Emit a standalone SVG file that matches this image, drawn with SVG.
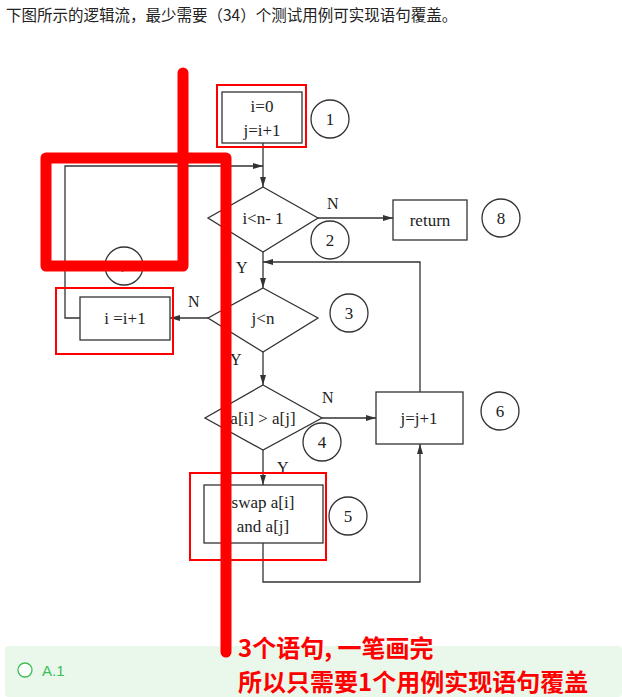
<svg xmlns="http://www.w3.org/2000/svg" width="622" height="697" viewBox="0 0 622 697">
<style>
.s{fill:none;stroke:#333;stroke-width:1.3}
.b{fill:#fff;stroke:#333;stroke-width:1.3}
.t{font-family:"Liberation Serif",serif;font-size:17px;fill:#222;text-anchor:middle}
.r{fill:none;stroke:#f00;stroke-width:2}
.c{fill:#fff;stroke:#333;stroke-width:1.3}
.big{font-family:"Noto Sans CJK SC",sans-serif;font-weight:bold;font-size:24px;fill:#f00}
</style>
<defs><marker id="a" viewBox="0 0 10 10" refX="10" refY="5" markerWidth="8" markerHeight="8" orient="auto"><path d="M0,2 L10,5 L0,8 z" fill="#333"/></marker></defs>
<rect width="622" height="697" fill="#fff"/>
<text x="6" y="21" font-family="Noto Sans CJK SC,sans-serif" font-size="15.5" fill="#222">下图所示的逻辑流，最少需要（34）个测试用例可实现语句覆盖。</text>
<g id="connectors">
<path class="s" d="M263,143 V187" marker-end="url(#a)"/>
<path class="s" d="M80,318 H65 V166 H263" marker-end="url(#a)"/>
<path class="s" d="M318,218 H393" marker-end="url(#a)"/>
<path class="s" d="M263,252 V288" marker-end="url(#a)"/>
<path class="s" d="M420,392 V262 H263" marker-end="url(#a)"/>
<path class="s" d="M208,318 H170" marker-end="url(#a)"/>
<path class="s" d="M263,352 V385" marker-end="url(#a)"/>
<path class="s" d="M322,418 H376" marker-end="url(#a)"/>
<path class="s" d="M263,450 V485" marker-end="url(#a)"/>
<path class="s" d="M263,543 V582 H420 V444" marker-end="url(#a)"/>
</g>
<g id="n1"><rect class="b" x="222" y="92" width="80" height="51"/><text class="t" x="262" y="112">i=0</text><text class="t" x="262" y="136">j=i+1</text><circle class="c" cx="330" cy="119" r="19"/><text class="t" x="330" y="125">1</text></g>
<g id="n2"><path class="b" d="M263,187 L318,218 L263,252 L208,218 z"/><text class="t" x="263" y="224">i&lt;n- 1</text><circle class="c" cx="330" cy="240" r="19"/><text class="t" x="330" y="246">2</text></g>
<g id="n8"><rect class="b" x="393" y="200" width="74" height="40"/><text class="t" x="430" y="226">return</text><circle class="c" cx="501" cy="218" r="19"/><text class="t" x="501" y="224">8</text></g>
<g id="n3"><path class="b" d="M263,288 L318,318 L263,352 L208,318 z"/><text class="t" x="263" y="324">j&lt;n</text><circle class="c" cx="349" cy="313" r="19"/><text class="t" x="349" y="319">3</text></g>
<g id="n7"><circle class="c" cx="124" cy="266" r="19"/><text class="t" x="124" y="272">7</text><rect class="b" x="80" y="297" width="90" height="43"/><text class="t" x="125" y="324">i =i+1</text></g>
<g id="n4"><path class="b" d="M263,385 L322,418 L263,450 L205,418 z"/><text class="t" x="263" y="424">a[i] &gt; a[j]</text><circle class="c" cx="322" cy="442" r="19"/><text class="t" x="322" y="448">4</text></g>
<g id="n6"><rect class="b" x="376" y="392" width="87" height="52"/><text class="t" x="419" y="424">j=j+1</text><circle class="c" cx="500" cy="411" r="19"/><text class="t" x="500" y="417">6</text></g>
<g id="n5"><rect class="b" x="204" y="485" width="119" height="58"/><text class="t" x="263" y="508">swap a[i]</text><text class="t" x="263" y="532">and a[j]</text><circle class="c" cx="348" cy="516" r="19"/><text class="t" x="348" y="522">5</text></g>
<g font-family="Liberation Serif,serif" font-size="16" fill="#222">
<text x="327" y="209">N</text><text x="236" y="273">Y</text><text x="188" y="307">N</text><text x="230" y="365">Y</text><text x="322" y="403">N</text><text x="277" y="473">Y</text></g>
<rect x="5" y="646" width="617" height="51" rx="4" fill="#eaf8ec"/>
<circle cx="25" cy="670" r="7" fill="#fff" stroke="#3bbf55" stroke-width="1.3"/>
<text x="42" y="676" font-family="Liberation Sans,sans-serif" font-size="15" fill="#3bbf55">A.1</text>
<g id="annot">
<rect class="r" x="217" y="85" width="89" height="62"/>
<rect class="r" x="56" y="288" width="117" height="66"/>
<rect class="r" x="190" y="473" width="136" height="87"/>
<path d="M183,73 V266 H46 V158 H226 V652" fill="none" stroke="#f00" stroke-width="11" stroke-linecap="round" stroke-linejoin="round"/>
<text class="big" x="238" y="657">3个语句, 一笔画完</text>
<text class="big" x="238" y="691">所以只需要1个用例实现语句覆盖</text>
</g>
</svg>
